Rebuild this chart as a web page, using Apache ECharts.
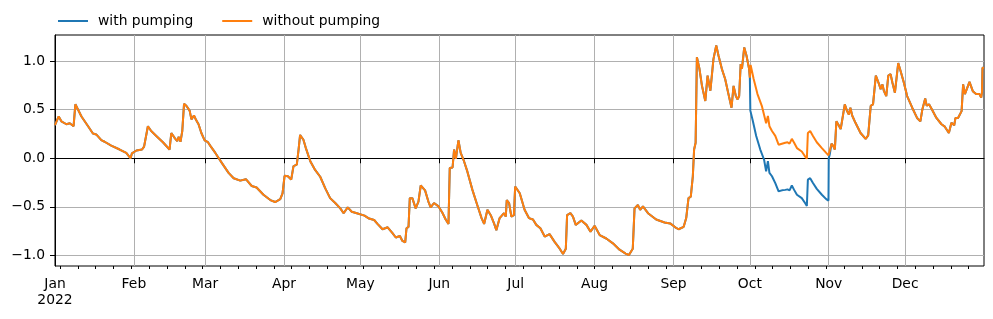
<!DOCTYPE html>
<html>
<head>
<meta charset="utf-8">
<script src="https://cdn.jsdelivr.net/npm/echarts@6/dist/echarts.min.js"></script>
<style>
  html, body { margin: 0; padding: 0; background: #fff; }
  #chart { width: 993px; height: 319px; }
</style>
</head>
<body>
<div id="chart"></div>
<script>
// x = days since 2022-01-01 00:00, y = water level
const seriesNames = ['with pumping', 'without pumping']

// Jan 1 .. Oct 1, both runs identical
const sharedSpring = [
  [0.0, 0.34], [1.45, 0.43], [2.5, 0.38], [4.5, 0.35], [5.8, 0.36], [7.3, 0.33], [8.0, 0.555],
  [10.4, 0.43], [13, 0.33], [14.9, 0.255], [16.2, 0.245], [18.2, 0.186], [19.5, 0.17], [22.1, 0.13],
  [25.4, 0.09], [28, 0.055], [29.7, 0.0], [30.2, 0.05], [32, 0.08], [34.2, 0.09], [35, 0.12],
  [35.5, 0.1], [36.5, 0.33], [37.8, 0.28], [39.8, 0.23], [40.4, 0.24], [42.4, 0.165], [45, 0.09],
  [45.7, 0.26], [47, 0.21], [48, 0.175], [48.6, 0.22], [49.3, 0.17], [50, 0.28], [50.7, 0.56],
  [51.6, 0.54], [52.9, 0.49], [53.6, 0.40], [54.6, 0.44], [55.5, 0.39], [56.4, 0.35], [57.5, 0.26],
  [58.8, 0.185], [60.1, 0.165], [61.1, 0.125], [63, 0.055], [65.6, -0.05], [68.2, -0.15],
  [70.2, -0.205], [72.8, -0.23], [75, -0.215], [77.3, -0.285], [79.2, -0.30], [81.9, -0.375],
  [84.6, -0.43], [86.5, -0.45], [88.5, -0.42], [89.4, -0.36], [90.2, -0.18], [91.5, -0.185],
  [92.8, -0.22], [93.7, -0.08], [95, -0.065], [95.7, 0.09], [96.3, 0.24], [97.6, 0.19], [98.5, 0.11],
  [100.3, -0.03], [102.2, -0.12], [104.2, -0.19], [106.2, -0.31], [108.1, -0.41], [110.1, -0.46],
  [112.1, -0.515], [113.4, -0.565], [115, -0.505], [116.6, -0.55], [118.6, -0.565], [121.6, -0.59],
  [123.4, -0.62], [125.4, -0.635], [126.7, -0.675], [128.7, -0.73], [130.7, -0.71], [132.6, -0.77],
  [133.9, -0.815], [135.5, -0.80], [136.5, -0.85], [137.6, -0.865], [138.1, -0.72], [138.9, -0.705],
  [139.4, -0.41], [140.4, -0.41], [141.7, -0.515], [142.8, -0.445], [143.7, -0.28], [145.4, -0.33],
  [146.7, -0.445], [147.6, -0.505], [148.9, -0.46], [150.7, -0.495], [152.2, -0.56], [153.5, -0.63],
  [154.6, -0.675], [155.1, -0.10], [156.2, -0.095], [156.8, 0.09], [157.5, -0.005], [158.5, 0.185],
  [159.4, 0.055], [160.7, -0.03], [162, -0.135], [164, -0.325], [165.9, -0.48], [167.6, -0.615],
  [168.6, -0.675], [169.9, -0.53], [171.2, -0.585], [172.5, -0.67], [173.4, -0.74], [174.7, -0.615],
  [176.4, -0.565], [177.1, -0.60], [177.5, -0.43], [178.4, -0.46], [179.3, -0.60], [180.3, -0.585],
  [180.8, -0.29], [182.6, -0.36], [184.5, -0.53], [186.2, -0.615], [187.8, -0.63], [189.1, -0.685],
  [190.7, -0.72], [192.4, -0.805], [194.3, -0.78], [196.3, -0.86], [198.3, -0.93], [199.6, -0.985],
  [200.7, -0.93], [201.2, -0.585], [202.5, -0.565], [203.5, -0.60], [204.6, -0.685], [206.8, -0.64],
  [208.8, -0.685], [210.4, -0.755], [212, -0.695], [214, -0.79], [216.6, -0.825], [219.2, -0.875],
  [221.8, -0.94], [224.2, -0.98], [225.5, -0.995], [227, -0.93], [227.7, -0.515], [229, -0.48],
  [229.9, -0.53], [231, -0.495], [233, -0.565], [236.2, -0.63], [239.5, -0.66], [241.7, -0.67],
  [243.7, -0.71], [245, -0.73], [247, -0.705], [248, -0.615], [248.9, -0.41], [249.8, -0.395],
  [250.6, -0.185], [251.1, 0.09], [251.7, 0.16], [252.2, 1.04], [253.2, 0.92], [254.2, 0.745],
  [255.5, 0.59], [256.4, 0.85], [257.5, 0.695], [258.7, 1.02], [259.8, 1.16], [260.7, 1.055],
  [262, 0.92], [263.3, 0.815], [264.6, 0.66], [265.8, 0.52], [266.6, 0.745], [267.5, 0.64],
  [268.2, 0.605], [268.8, 0.64], [269.4, 0.97], [269.9, 0.92], [270.8, 1.14], [271.7, 1.055],
  [272.7, 0.92], [273.0, 0.83],
]

// October: pumping pulls the level down
const withPumpingOct = [
  [273.2, 0.49], [274.2, 0.38], [275.5, 0.23], [277.1, 0.09], [278.6, -0.015], [279.4, -0.135],
  [280.1, -0.03], [280.7, -0.15], [281.7, -0.185], [283, -0.255], [284.3, -0.34], [285.6, -0.33],
  [286.9, -0.325], [287.8, -0.32], [288.6, -0.33], [289.5, -0.28], [290.4, -0.325], [291.5, -0.375],
  [293.4, -0.41], [294.7, -0.46], [295.4, -0.49], [295.8, -0.22], [296.7, -0.205], [297.8, -0.255],
  [299.3, -0.315], [301.3, -0.375], [303, -0.42], [303.9, -0.435], [304.0, 0.0],
]
const withoutPumpingOct = [
  [273.3, 0.96], [274.5, 0.815], [276.0, 0.66], [277.7, 0.54], [279.4, 0.36], [280.1, 0.435],
  [280.7, 0.33], [281.7, 0.28], [283, 0.23], [284.3, 0.14], [285.6, 0.15], [286.9, 0.16],
  [287.8, 0.165], [288.6, 0.15], [289.5, 0.20], [290.4, 0.16], [291.5, 0.105], [293.4, 0.07],
  [294.7, 0.02], [295.4, -0.005], [295.8, 0.26], [296.7, 0.28], [297.8, 0.23], [299.3, 0.165],
  [301.3, 0.105], [303, 0.055], [303.9, 0.03],
]

// Nov 1 .. Dec 31, identical again
const sharedWinter = [
  [304.4, 0.04], [305.1, 0.15], [305.8, 0.125], [306.4, 0.09], [307.0, 0.38], [307.7, 0.35],
  [308.7, 0.30], [309.3, 0.315], [310.3, 0.555], [311.2, 0.485], [311.9, 0.45], [312.5, 0.52],
  [313.2, 0.44], [314.5, 0.365], [316.5, 0.26], [318.5, 0.20], [319.5, 0.235], [320.1, 0.22],
  [320.5, 0.54], [321.4, 0.555], [322.5, 0.85], [323.8, 0.76], [324.4, 0.71], [325.1, 0.76],
  [325.7, 0.69], [326.6, 0.64], [327.4, 0.85], [328.3, 0.865], [329, 0.78], [330, 0.675],
  [331.3, 0.98], [332.2, 0.90], [333.5, 0.78], [334.8, 0.64], [336.8, 0.52], [338.7, 0.415],
  [340, 0.38], [340.8, 0.505], [341.9, 0.615], [342.5, 0.54], [343.4, 0.555], [344.5, 0.505],
  [346.3, 0.415], [348.3, 0.35], [349.6, 0.325], [351.2, 0.26], [352.2, 0.365], [353.3, 0.34],
  [353.8, 0.415], [354.8, 0.415], [356.2, 0.485], [356.8, 0.76], [357.5, 0.66], [358.1, 0.64],
  [359.3, 0.785], [360.6, 0.69], [361.9, 0.66], [363.2, 0.66], [363.9, 0.625], [364.2, 0.675],
  [364.4, 0.93], [365, 0.93],
]

const monthStarts = [0, 31, 59, 90, 120, 151, 181, 212, 243, 273, 304, 334]
const monthLabels = ['Jan\n2022', 'Feb', 'Mar', 'Apr', 'May', 'Jun', 'Jul', 'Aug', 'Sep', 'Oct', 'Nov', 'Dec']
const yTicks = [-1, -0.5, 0, 0.5, 1]

const withPumping = sharedSpring.concat(withPumpingOct, sharedWinter)
const withoutPumping = sharedSpring.concat(withoutPumpingOct, sharedWinter)

// weekly minor ticks on Mondays (2022-01-03 is day 2)
const mondays = []
for (let d = 2; d < 365; d += 7) mondays.push(d)

const font = 'DejaVu Sans'
const grey = '#b0b0b0'

const chart = echarts.init(document.getElementById('chart'), null, { renderer: 'canvas' })
chart.setOption({
  animation: false,
  textStyle: { fontFamily: font, color: '#000' },
  grid: { left: 55, right: 9, top: 35, bottom: 53, show: true, borderColor: '#000', borderWidth: 1, backgroundColor: 'transparent' },
  legend: {
    data: seriesNames, left: 53, top: 9, itemGap: 29, itemWidth: 30, itemHeight: 2, icon: 'rect',
    textStyle: { fontFamily: font, fontSize: 13.89, color: '#000', padding: [0, 0, 0, 5] },
  },
  xAxis: [
    {
      type: 'value', min: 0, max: 365,
      axisLine: { show: true, lineStyle: { color: '#000', width: 1 } },
      axisTick: { show: true, customValues: monthStarts, length: 5, lineStyle: { color: '#000' } },
      axisLabel: {
        customValues: monthStarts, margin: 10, fontFamily: font, fontSize: 13.89, color: '#000', lineHeight: 16,
        formatter: v => monthLabels[monthStarts.indexOf(Math.round(v))] || '',
      },
      splitLine: { show: true, lineStyle: { color: grey, width: 1 } },
    },
    {
      type: 'value', min: 0, max: 365, position: 'bottom',
      axisLine: { show: false },
      axisTick: { show: true, customValues: mondays, length: 3, lineStyle: { color: '#000' } },
      axisLabel: { show: false },
      splitLine: { show: false },
    },
  ],
  yAxis: {
    type: 'value', min: -1.108, max: 1.268,
    axisLine: { show: true, lineStyle: { color: '#000', width: 1 } },
    axisTick: { show: true, customValues: yTicks, length: 5, lineStyle: { color: '#000' } },
    axisLabel: {
      customValues: yTicks, margin: 10, fontFamily: font, fontSize: 13.89, color: '#000',
      formatter: v => v.toFixed(1).replace('-', '\u2212'),
    },
    splitLine: { show: true, lineStyle: { color: grey, width: 1 } },
  },
  series: [
    { name: seriesNames[0], type: 'line', data: withPumping, showSymbol: false, symbol: 'none',
      color: '#1f77b4', lineStyle: { width: 2, color: '#1f77b4' } },
    { name: seriesNames[1], type: 'line', data: withoutPumping, showSymbol: false, symbol: 'none',
      color: '#ff7f0e', lineStyle: { width: 2, color: '#ff7f0e' } },
  ],
})
</script>
</body>
</html>
